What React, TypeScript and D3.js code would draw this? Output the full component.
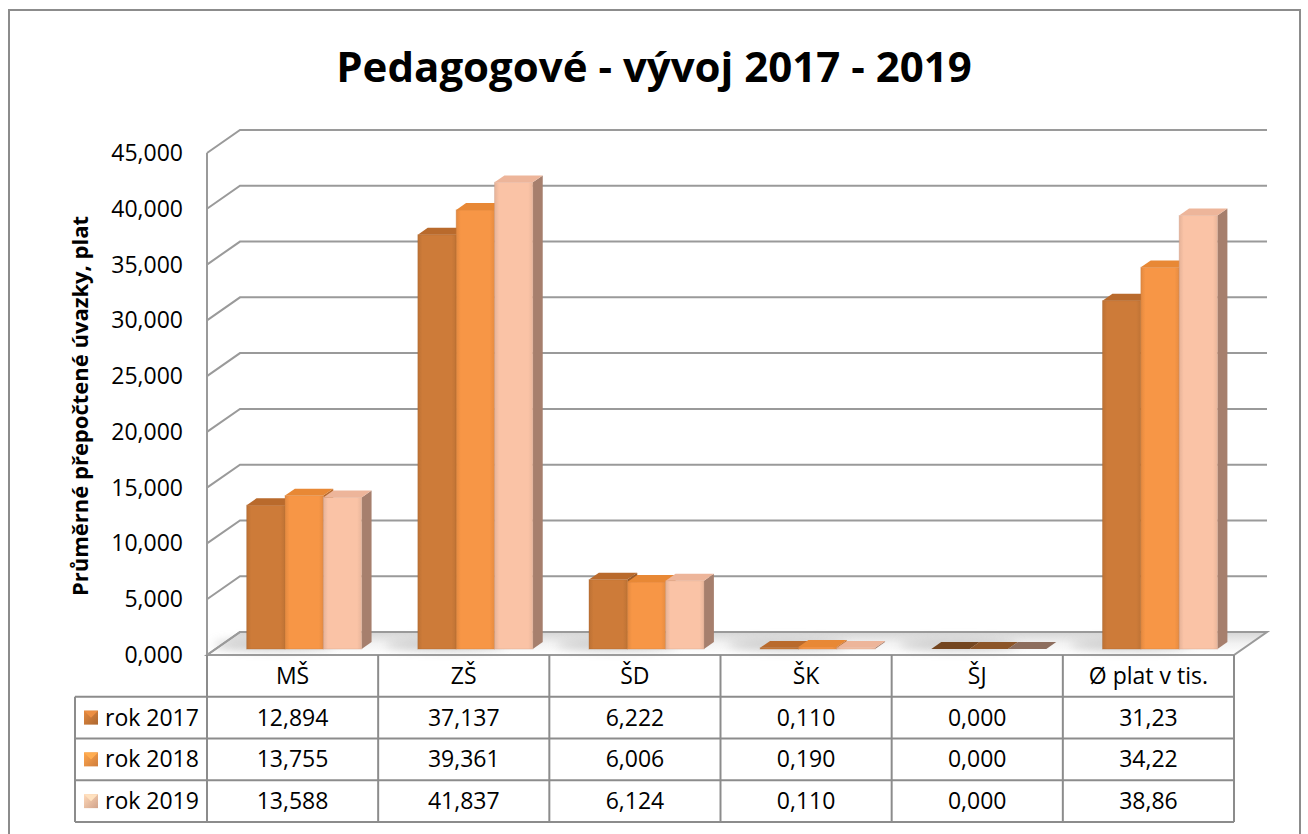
import React from 'react';
import * as d3 from 'd3';

// ---- data ----
const categories = ['MŠ', 'ZŠ', 'ŠD', 'ŠK', 'ŠJ', 'Ø plat v tis.'];
const seriesNames = ['rok 2017', 'rok 2018', 'rok 2019'];
const values2017 = [12.894, 37.137, 6.222, 0.11, 0.0, 31.23];
const values2018 = [13.755, 39.361, 6.006, 0.19, 0.0, 34.22];
const values2019 = [13.588, 41.837, 6.124, 0.11, 0.0, 38.86];
const decimals = [3, 3, 3, 3, 3, 2];
const yTicks = [0, 5, 10, 15, 20, 25, 30, 35, 40, 45];
const title = 'Pedagogové - vývoj 2017 - 2019';
const yTitle = 'Průměrné přepočtené úvazky, plat';

const seriesValues = [values2017, values2018, values2019];
const frontColors = ['#CD7B39', '#F79646', '#FAC3A6'];
const topColors = ['#B96A2C', '#E88835', '#EDB59A'];
const sideColors = ['#9C5A26', '#B86A2C', '#A67F6D'];

const FONT = "'Open Sans', 'DejaVu Sans', sans-serif";
const GRID = '#9a9a9a';

const fmt = (v: number, d: number) => d3.format(`.${d}f`)(v).replace('.', ',');

export default function App() {
  const W = 1308;
  const H = 834;
  const left = 207;
  const right = 1234;
  const DX = 33;
  const DY = 23;
  const z0 = 0.26;
  const zd = 0.3;

  const x = d3.scaleBand<string>().domain(categories).range([left, right]);
  const clusterW = 115;
  const xs = d3.scaleBand<number>().domain([0, 1, 2]).range([0, clusterW]);
  const y = d3.scaleLinear().domain([0, 45]).range([655, 153]);

  const rowKeys = ['header', ...seriesNames];
  const rowY = d3.scaleBand<string>().domain(rowKeys).range([655, 822]);

  const floor = [
    [left, y(0)],
    [left + DX, y(0) - DY],
    [right + DX, y(0) - DY],
    [right, y(0)],
  ];

  const bars: any[] = [];
  categories.forEach((c, ci) => {
    seriesValues.forEach((vals, si) => {
      const v = vals[ci];
      const bx = (x(c) as number) + (x.bandwidth() - clusterW) / 2 + 3 + z0 * DX + (xs(si) as number);
      const bw = xs.bandwidth();
      const base = y(0) - z0 * DY;
      const top = y(v) - z0 * DY;
      const ddx = zd * DX;
      const ddy = zd * DY;
      const zero = v === 0;
      bars.push({ key: `${ci}-${si}`, bx, bw, base, top, ddx, ddy, si, zero });
    });
  });

  const pts = (p: number[][]) => p.map((q) => q.join(',')).join(' ');

  return (
    <svg
      width={W}
      height={H}
      style={{ position: 'absolute', left: 0, top: 0, background: '#fff' }}
      fontFamily={FONT}
    >
      <defs>
        <linearGradient id="floorGrad" x1="0" y1="1" x2="0" y2="0">
          <stop offset="0" stopColor="#ffffff" />
          <stop offset="0.5" stopColor="#f2f2f2" />
          <stop offset="1" stopColor="#d6d6d6" />
        </linearGradient>
        <filter id="blur" x="-50%" y="-200%" width="200%" height="500%">
          <feGaussianBlur stdDeviation="5" />
        </filter>
        {frontColors.map((c, i) => (
          <linearGradient id={`fg${i}`} key={i} x1="0" x2="1" y1="0" y2="0">
            <stop offset="0" stopColor={d3.color(c)!.darker(0.25).toString()} />
            <stop offset="0.12" stopColor={c} />
            <stop offset="0.88" stopColor={c} />
            <stop offset="1" stopColor={d3.color(c)!.darker(0.2).toString()} />
          </linearGradient>
        ))}
        {frontColors.map((c, i) => (
          <linearGradient id={`lg${i}`} key={i} x1="0" x2="1" y1="0" y2="1">
            <stop offset="0" stopColor={d3.color(c)!.brighter(0.3).toString()} />
            <stop offset="1" stopColor={d3.color(c)!.darker(0.5).toString()} />
          </linearGradient>
        ))}
      </defs>

      {/* outer border */}
      <rect x={9} y={10} width={1291} height={850} fill="#fff" stroke="#8c8c8c" strokeWidth={2} />

      {/* title */}
      <text x={654} y={82} textAnchor="middle" fontSize={42} fontWeight="bold" fill="#000">
        {title}
      </text>

      {/* floor */}
      <polygon points={pts(floor)} fill="url(#floorGrad)" />
      {categories.map((c) => {
        const cx = (x(c) as number) + x.bandwidth() / 2 + DX * 0.35;
        return (
          <ellipse
            key={c}
            cx={cx - 30}
            cy={y(0) - DY * 0.45}
            rx={60}
            ry={6}
            fill="#bdbdbd"
            opacity={0.7}
            filter="url(#blur)"
          />
        );
      })}
      <polygon points={pts(floor)} fill="none" stroke={GRID} strokeWidth={2} />

      {/* gridlines */}
      {yTicks.map((t) => (
        <polyline
          key={t}
          points={pts([
            [left, y(t)],
            [left + DX, y(t) - DY],
            [right + DX, y(t) - DY],
          ])}
          fill="none"
          stroke={GRID}
          strokeWidth={2}
        />
      ))}
      <line x1={left} y1={y(45)} x2={left} y2={y(0)} stroke={GRID} strokeWidth={2} />

      {/* y tick labels */}
      {yTicks.map((t) => (
        <text key={t} x={183} y={y(t) + 8} textAnchor="end" fontSize={23} fill="#000">
          {fmt(t, 3)}
        </text>
      ))}

      {/* y axis title */}
      <text
        transform={`translate(88, 406) rotate(-90)`}
        textAnchor="middle"
        fontSize={22}
        fontWeight="bold"
        fill="#000"
      >
        {yTitle}
      </text>

      {/* bars */}
      {bars.map((b) => {
        const front = b.zero ? d3.color(frontColors[b.si])!.darker(1.6).toString() : `url(#fg${b.si})`;
        const topC = b.zero ? d3.color(frontColors[b.si])!.darker(1.6).toString() : topColors[b.si];
        return (
          <g key={b.key}>
            <polygon
              points={pts([
                [b.bx + b.bw, b.top],
                [b.bx + b.bw + b.ddx, b.top - b.ddy],
                [b.bx + b.bw + b.ddx, b.base - b.ddy],
                [b.bx + b.bw, b.base],
              ])}
              fill={sideColors[b.si]}
            />
            <rect
              x={b.bx}
              y={b.top}
              width={b.bw}
              height={Math.max(0, b.base - b.top)}
              fill={front}
              stroke={d3.color(frontColors[b.si])!.darker(0.6).toString()}
              strokeOpacity={0.35}
              strokeWidth={1}
            />
            <polygon
              points={pts([
                [b.bx, b.top],
                [b.bx + b.bw, b.top],
                [b.bx + b.bw + b.ddx, b.top - b.ddy],
                [b.bx + b.ddx, b.top - b.ddy],
              ])}
              fill={topC}
            />
          </g>
        );
      })}

      {/* data table */}
      <g stroke="#8c8c8c" strokeWidth={2} fill="none">
        {seriesNames.map((s) => (
          <line
            key={s}
            x1={75}
            x2={right}
            y1={(rowY(s) as number) + rowY.bandwidth()}
            y2={(rowY(s) as number) + rowY.bandwidth()}
          />
        ))}
        <line x1={75} x2={right} y1={rowY(seriesNames[0])} y2={rowY(seriesNames[0])} />
        <line x1={75} x2={75} y1={rowY(seriesNames[0])} y2={822} />
        {categories.map((c) => (
          <line key={c} x1={x(c)} x2={x(c)} y1={655} y2={822} />
        ))}
        <line x1={right} x2={right} y1={655} y2={822} />
      </g>

      {categories.map((c) => (
        <text
          key={c}
          x={(x(c) as number) + x.bandwidth() / 2}
          y={(rowY('header') as number) + rowY.bandwidth() / 2 + 8}
          textAnchor="middle"
          fontSize={23}
          fill="#000"
        >
          {c}
        </text>
      ))}

      {seriesNames.map((s, si) => {
        const ry = (rowY(s) as number) + rowY.bandwidth() / 2;
        return (
          <g key={s}>
            <rect x={84} y={ry - 7} width={14} height={14} fill={`url(#lg${si})`} />
            <polygon
              points={pts([
                [84, ry - 7],
                [98, ry - 7],
                [91, ry],
              ])}
              fill={d3.color(frontColors[si])!.brighter(0.4).toString()}
            />
            <text x={105} y={ry + 8} fontSize={23} fill="#000">
              {s}
            </text>
            {categories.map((c, ci) => (
              <text
                key={c}
                x={(x(c) as number) + x.bandwidth() / 2}
                y={ry + 8}
                textAnchor="middle"
                fontSize={23}
                fill="#000"
              >
                {fmt(seriesValues[si][ci], decimals[ci])}
              </text>
            ))}
          </g>
        );
      })}
    </svg>
  );
}
